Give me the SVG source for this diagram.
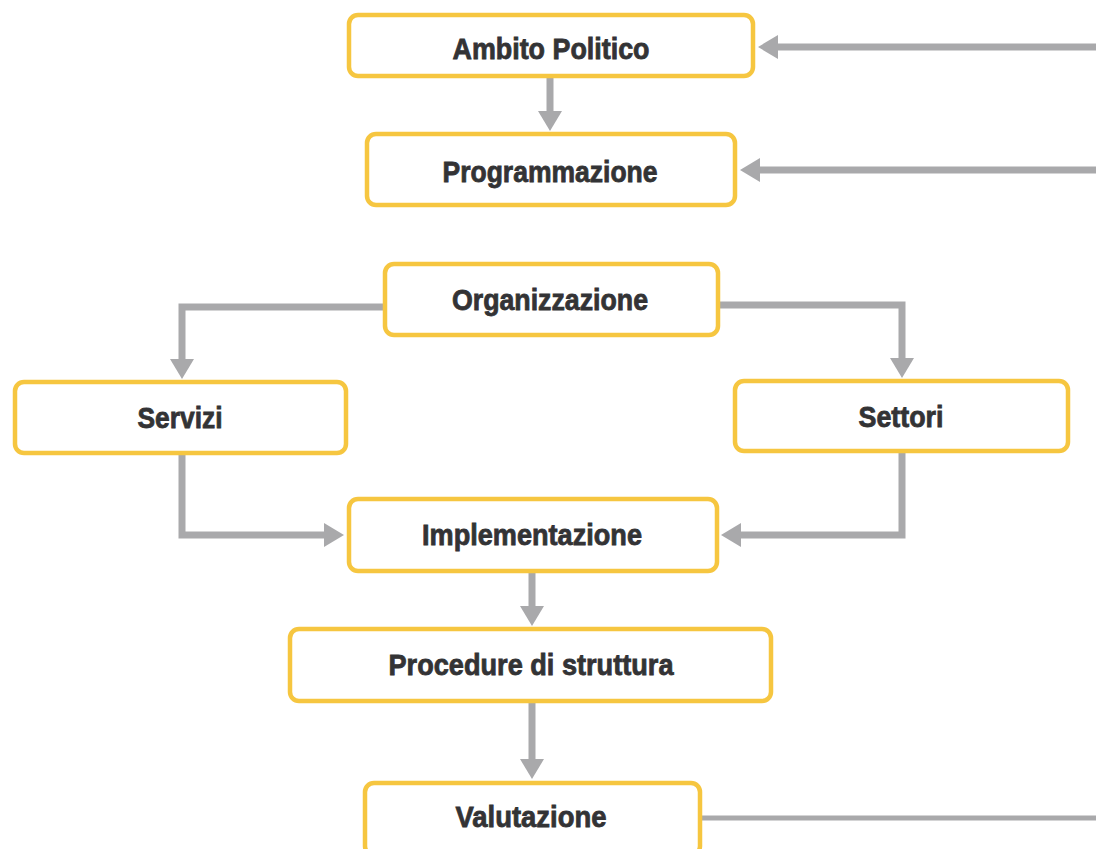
<svg xmlns="http://www.w3.org/2000/svg" width="1096" height="849" viewBox="0 0 1096 849">
<style>
.box{fill:#ffffff;stroke:#F6C640;stroke-width:4.5}
.lbl{font-family:"Liberation Sans",Arial,sans-serif;font-weight:bold;font-size:29px;fill:#333335;stroke:#333335;stroke-width:0.8;text-anchor:middle}
.con{fill:none;stroke:#A9A9AB;stroke-width:7}
</style>
<defs>
<marker id="ah" markerUnits="userSpaceOnUse" viewBox="0 0 20 24" refX="12" refY="12" markerWidth="20" markerHeight="24" orient="auto">
<path d="M0,0 L20,12 L0,24 z" fill="#A9A9AB"/>
</marker>
</defs>
<rect width="1096" height="849" fill="#ffffff"/>
<g id="connectors">
<path class="con" d="M550,78 V123" marker-end="url(#ah)"/>
<path class="con" d="M1100,47 H766" marker-end="url(#ah)"/>
<path class="con" d="M1100,170 H748" marker-end="url(#ah)"/>
<path class="con" d="M383,307 H182 V371" marker-end="url(#ah)"/>
<path class="con" d="M720,305 H902 V370" marker-end="url(#ah)"/>
<path class="con" d="M182,455 V535 H336" marker-end="url(#ah)"/>
<path class="con" d="M902,453 V535 H729" marker-end="url(#ah)"/>
<path class="con" d="M532,573 V618" marker-end="url(#ah)"/>
<path class="con" d="M532,703 V771" marker-end="url(#ah)"/>
<path class="con" d="M702,818 H1100" style="stroke-width:5"/>
</g>
<g id="ambito">
<rect class="box" x="349" y="15" width="404" height="61" rx="9"/>
<text class="lbl" x="551" y="59" textLength="197" lengthAdjust="spacingAndGlyphs">Ambito Politico</text>
</g>
<g id="programmazione">
<rect class="box" x="367" y="134" width="368" height="71" rx="9"/>
<text class="lbl" x="550" y="182" textLength="215" lengthAdjust="spacingAndGlyphs">Programmazione</text>
</g>
<g id="organizzazione">
<rect class="box" x="385" y="264" width="333" height="71" rx="9"/>
<text class="lbl" x="550" y="310" textLength="196" lengthAdjust="spacingAndGlyphs">Organizzazione</text>
</g>
<g id="servizi">
<rect class="box" x="15" y="382" width="331" height="71" rx="9"/>
<text class="lbl" x="180" y="428" textLength="85" lengthAdjust="spacingAndGlyphs">Servizi</text>
</g>
<g id="settori">
<rect class="box" x="735" y="381" width="333" height="70" rx="9"/>
<text class="lbl" x="901" y="427" textLength="85" lengthAdjust="spacingAndGlyphs">Settori</text>
</g>
<g id="implementazione">
<rect class="box" x="349" y="499" width="368" height="72" rx="9"/>
<text class="lbl" x="532" y="545" textLength="220" lengthAdjust="spacingAndGlyphs">Implementazione</text>
</g>
<g id="procedure">
<rect class="box" x="290" y="629" width="481" height="72" rx="9"/>
<text class="lbl" x="531" y="675" textLength="285" lengthAdjust="spacingAndGlyphs">Procedure di struttura</text>
</g>
<g id="valutazione">
<rect class="box" x="365" y="783" width="335" height="72" rx="9"/>
<text class="lbl" x="531" y="827" textLength="151" lengthAdjust="spacingAndGlyphs">Valutazione</text>
</g>
</svg>
